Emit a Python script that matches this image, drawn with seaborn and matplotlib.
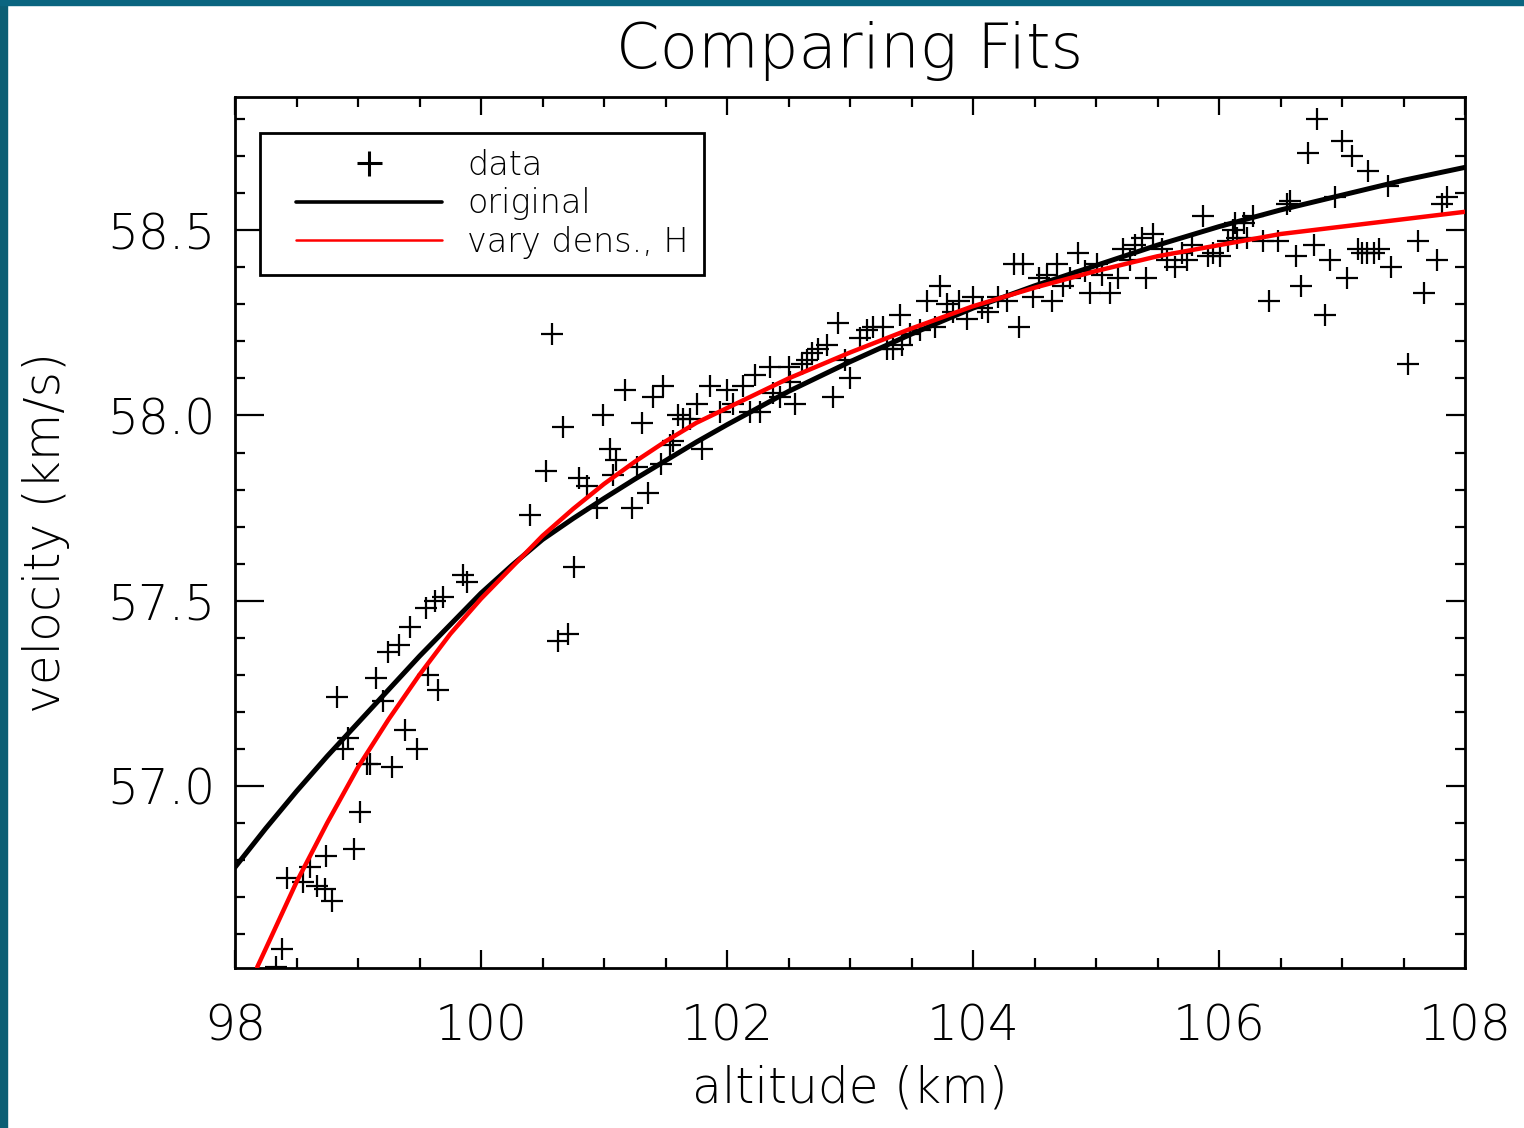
import numpy as np
import pandas as pd
import matplotlib
matplotlib.use("Agg")
import matplotlib.pyplot as plt
from matplotlib.lines import Line2D
from matplotlib.legend_handler import HandlerLine2D
from matplotlib.patches import Rectangle
from matplotlib.ticker import MultipleLocator, FormatStrFormatter
import seaborn as sns

# --- data ---
ALTITUDE = [
    98.33, 98.38, 98.42, 98.55, 98.61, 98.67, 98.73, 98.74, 98.79, 98.83, 98.88, 98.92, 98.97, 99.02,
    99.07, 99.10, 99.15, 99.20, 99.24, 99.28, 99.33, 99.38, 99.42, 99.48, 99.55, 99.57, 99.63, 99.65,
    99.69, 99.85, 99.89,
    100.40, 100.53, 100.58, 100.63, 100.67, 100.71, 100.76, 100.80, 100.86, 100.94, 100.99, 101.05,
    101.07, 101.10, 101.17, 101.23, 101.27, 101.31, 101.36, 101.40, 101.46, 101.48, 101.54, 101.56,
    101.60, 101.64, 101.70, 101.76, 101.80, 101.86, 101.94, 102.00,
    102.05, 102.13, 102.19, 102.23, 102.27, 102.35, 102.37, 102.43, 102.50, 102.51, 102.55, 102.61,
    102.65, 102.69, 102.74, 102.81, 102.86, 102.90, 102.96, 103.00, 103.08, 103.14, 103.19, 103.27,
    103.30, 103.35, 103.41, 103.42, 103.49, 103.57, 103.63, 103.69, 103.73, 103.79, 103.84, 103.89,
    103.95, 104.00,
    104.07, 104.12, 104.20, 104.28, 104.33, 104.37, 104.41, 104.49, 104.54, 104.60, 104.64, 104.68,
    104.73, 104.79, 104.85, 104.91, 104.95, 105.01, 105.05, 105.11, 105.18, 105.22, 105.28, 105.32,
    105.37, 105.41, 105.46, 105.54, 105.58, 105.64, 105.70, 105.74, 105.78, 105.87, 105.91, 105.95,
    106.01, 106.07, 106.11,
    106.13, 106.15, 106.20, 106.23, 106.28, 106.36, 106.41, 106.48, 106.55, 106.58, 106.63, 106.67,
    106.72, 106.77, 106.80, 106.86, 106.90, 106.94, 107.00, 107.04, 107.08, 107.13, 107.16, 107.20,
    107.21, 107.26, 107.30, 107.37, 107.40, 107.54, 107.62, 107.67, 107.77, 107.81, 107.85,
]
VELOCITY = [
    56.51, 56.56, 56.75, 56.74, 56.78, 56.73, 56.72, 56.81, 56.69, 57.24, 57.10, 57.13, 56.83, 56.93,
    57.06, 57.06, 57.29, 57.23, 57.36, 57.05, 57.38, 57.15, 57.43, 57.10, 57.48, 57.30, 57.50, 57.26,
    57.51, 57.57, 57.55,
    57.73, 57.85, 58.22, 57.39, 57.97, 57.41, 57.59, 57.83, 57.81, 57.75, 58.00, 57.91,
    57.84, 57.88, 58.07, 57.75, 57.86, 57.98, 57.79, 58.05, 57.87, 58.08, 57.92, 57.93,
    58.00, 57.99, 57.99, 58.03, 57.91, 58.08, 58.01, 58.07,
    58.03, 58.08, 58.01, 58.11, 58.01, 58.13, 58.06, 58.05, 58.13, 58.09, 58.03, 58.14,
    58.15, 58.17, 58.18, 58.19, 58.05, 58.25, 58.15, 58.10, 58.21, 58.23, 58.24, 58.24,
    58.18, 58.18, 58.27, 58.19, 58.22, 58.23, 58.31, 58.24, 58.35, 58.30, 58.28, 58.31,
    58.26, 58.32,
    58.29, 58.28, 58.32, 58.31, 58.41, 58.24, 58.41, 58.32, 58.37, 58.38, 58.31, 58.41,
    58.35, 58.37, 58.44, 58.39, 58.33, 58.41, 58.38, 58.33, 58.37, 58.45, 58.42, 58.46,
    58.48, 58.37, 58.49, 58.45, 58.42, 58.40, 58.44, 58.42, 58.46, 58.54, 58.43, 58.44,
    58.43, 58.47, 58.50,
    58.52, 58.48, 58.52, 58.48, 58.54, 58.47, 58.31, 58.47, 58.57, 58.58, 58.43, 58.35,
    58.71, 58.46, 58.80, 58.27, 58.42, 58.59, 58.74, 58.37, 58.70, 58.45, 58.44, 58.44,
    58.66, 58.44, 58.45, 58.62, 58.40, 58.14, 58.47, 58.33, 58.42, 58.57, 58.59,
]

# fitted curves
ORIGINAL_ALT = [98.0, 98.25, 98.5, 98.75, 99.0, 99.25, 99.5, 99.75, 100.0, 100.25, 100.5, 100.75,
                101.0, 101.25, 101.5, 101.75, 102.0, 102.5, 103.0, 103.5, 104.0, 104.5, 105.0,
                105.5, 106.0, 106.5, 107.0, 107.5, 108.0]
ORIGINAL_VEL = [56.78, 56.885, 56.985, 57.08, 57.17, 57.26, 57.35, 57.435, 57.52, 57.595, 57.665,
                57.722, 57.776, 57.828, 57.878, 57.928, 57.975, 58.065, 58.145, 58.22, 58.29,
                58.35, 58.405, 58.46, 58.51, 58.555, 58.595, 58.635, 58.67]

VARY_ALT = [98.18, 98.25, 98.5, 98.75, 99.0, 99.25, 99.5, 99.75, 100.0, 100.25, 100.5, 100.75,
            101.0, 101.25, 101.5, 101.75, 102.0, 102.5, 103.0, 103.5, 104.0, 104.5, 105.0,
            105.5, 106.0, 106.5, 107.0, 107.5, 108.0]
VARY_VEL = [56.51, 56.56, 56.74, 56.90, 57.05, 57.18, 57.30, 57.41, 57.505, 57.59, 57.675, 57.748,
            57.815, 57.875, 57.93, 57.98, 58.02, 58.10, 58.17, 58.235, 58.295, 58.345, 58.39,
            58.43, 58.46, 58.49, 58.51, 58.53, 58.55]

LEGEND_LABELS = ["data", "original", "vary dens., H"]
X_LIMITS = (98, 108)
Y_LIMITS = (56.508, 58.86)

W, H, DPI = 1524, 1128, 100
FONT = ["DejaVu Sans"]


def main():
    sns.set_style("ticks")
    plt.rcParams["font.family"] = FONT
    plt.rcParams["font.weight"] = "light"
    plt.rcParams["text.color"] = "black"
    plt.rcParams["axes.labelcolor"] = "black"

    fig = plt.figure(figsize=(W / DPI, H / DPI), dpi=DPI, facecolor="white")
    ax = fig.add_axes([235 / W, 1 - 968 / H, (1465 - 235) / W, (968 - 97) / H])

    # teal frame strips at the left and top edges
    fig.patches.append(Rectangle((0, 0), 7 / W, 1, transform=fig.transFigure,
                                 color="#0b5e74", zorder=0))
    fig.patches.append(Rectangle((0, 1 - 5 / H), 1, 5 / H, transform=fig.transFigure,
                                 color="#0a6580", zorder=0))

    points = pd.DataFrame({"altitude": ALTITUDE, "velocity": VELOCITY})
    sns.scatterplot(data=points, x="altitude", y="velocity", marker="+", s=250,
                    color="black", linewidth=1.6, ax=ax, legend=False, zorder=3)
    sns.lineplot(x=ORIGINAL_ALT, y=ORIGINAL_VEL, color="black", linewidth=3.6,
                 ax=ax, sort=False, zorder=4)
    sns.lineplot(x=VARY_ALT, y=VARY_VEL, color="#ff0000", linewidth=3.2,
                 ax=ax, sort=False, zorder=5)

    ax.set_xlim(*X_LIMITS)
    ax.set_ylim(*Y_LIMITS)
    ax.xaxis.set_major_locator(MultipleLocator(2))
    ax.xaxis.set_minor_locator(MultipleLocator(0.5))
    ax.yaxis.set_major_locator(MultipleLocator(0.5))
    ax.yaxis.set_minor_locator(MultipleLocator(0.1))
    ax.yaxis.set_major_formatter(FormatStrFormatter("%.1f"))

    for side in ax.spines.values():
        side.set_linewidth(2.0)
        side.set_color("black")

    ax.tick_params(axis="both", which="both", direction="in", top=True, right=False,
                   colors="black", width=1.6)
    ax.tick_params(axis="x", which="major", length=13, pad=25, labelsize=35)
    ax.tick_params(axis="x", which="minor", length=7)
    ax.tick_params(axis="y", which="major", length=21, pad=14, labelsize=35)
    ax.tick_params(axis="y", which="minor", length=7)
    for lab in ax.get_xticklabels() + ax.get_yticklabels():
        lab.set_fontweight("light")

    # right-hand ticks are shorter than the left ones
    ax_right = ax.twinx()
    ax_right.set_ylim(*Y_LIMITS)
    ax_right.yaxis.set_major_locator(MultipleLocator(0.5))
    ax_right.yaxis.set_minor_locator(MultipleLocator(0.1))
    ax_right.tick_params(axis="y", which="both", direction="in", labelright=False,
                         colors="black", width=1.6)
    ax_right.tick_params(axis="y", which="major", length=14)
    ax_right.tick_params(axis="y", which="minor", length=7)
    for side in ax_right.spines.values():
        side.set_visible(False)

    ax.set_title("Comparing Fits", fontsize=45, pad=21, fontweight="light")
    ax.set_xlabel("altitude (km)", fontsize=35, labelpad=10, fontweight="light")
    ax.set_ylabel("velocity (km/s)", fontsize=35, labelpad=27, fontweight="light")

    handles = [
        Line2D([], [], marker="+", linestyle="none", color="black", markersize=18,
               markeredgewidth=2.2),
        Line2D([], [], color="black", linewidth=2.6),
        Line2D([], [], color="#ff0000", linewidth=1.8),
    ]
    leg = ax.legend(handles, LEGEND_LABELS, loc="upper left",
                    bbox_to_anchor=((260 - 235) / 1230, (968 - 133) / 871),
                    borderaxespad=0, frameon=True, fancybox=False,
                    edgecolor="black", framealpha=1, borderpad=0.47,
                    handlelength=4.99, handletextpad=0.75, labelspacing=0.17,
                    handler_map={Line2D: HandlerLine2D(xpad=0.61)},
                    prop={"size": 24, "weight": "light"})
    leg.get_frame().set_linewidth(2.0)
    leg.set_zorder(10)

    fig.savefig("out.png", dpi=DPI, facecolor="white")
    plt.close(fig)


if __name__ == "__main__":
    main()
